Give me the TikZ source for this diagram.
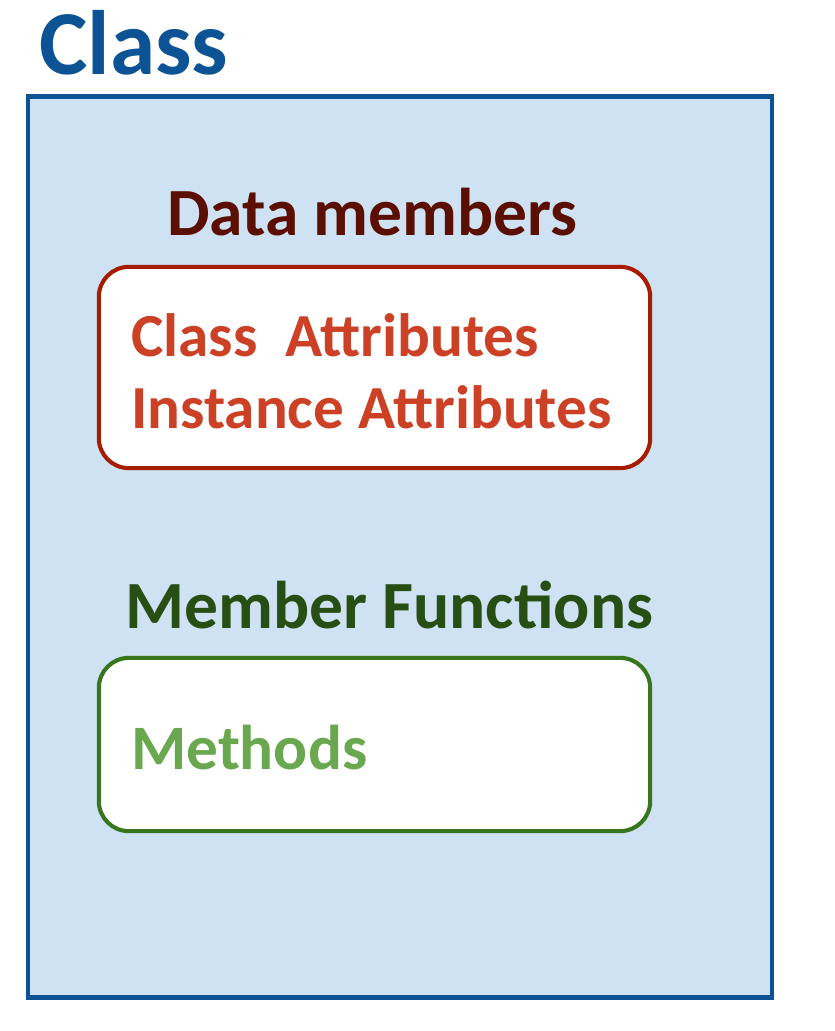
\documentclass[tikz,border=0pt]{standalone}
\usepackage{fontspec}
\setmainfont{Carlito}
\usepackage{tikz}
\usetikzlibrary{shapes.geometric, arrows}
\definecolor{classblue}{HTML}{0B5394}
\definecolor{classfill}{HTML}{CFE2F3}
\definecolor{datadark}{HTML}{5B0F00}
\definecolor{databorder}{HTML}{A61C00}
\definecolor{datatext}{HTML}{CC4125}
\definecolor{funcdark}{HTML}{274E13}
\definecolor{funcborder}{HTML}{38761D}
\definecolor{functext}{HTML}{6AA84F}
\tikzstyle{outer} = [rectangle, draw=classblue, fill=classfill, line width=3.4pt, inner sep=0pt, minimum width=18.6cm, minimum height=22.5cm]
\tikzstyle{member} = [rectangle, rounded corners=0.75cm, fill=white, line width=2.9pt, inner sep=0pt, minimum width=13.78cm]
\tikzstyle{label} = [anchor=base west, inner sep=0pt, font=\bfseries\fontsize{48}{48}\selectfont]
\tikzstyle{entry} = [anchor=base west, inner sep=0pt, font=\bfseries\fontsize{43.5}{43.5}\selectfont]

\begin{document}
\begin{tikzpicture}[x=0.025cm, y=-0.025cm]
  \useasboundingbox (0,0) rectangle (834,1031);
  \node (cls) [outer] at (400,547) {};
  \node (title) [label, text=classblue, font=\bfseries\fontsize{65}{65}\selectfont] at (39,75) {Class};

  \node (datahead) [label, text=datadark] at (167,235) {Data members};
  \node (databox) [member, draw=databorder, minimum height=5.03cm] at (374.5,367.5) {};
  \node (clsattr) [entry, text=datatext] at (131,356) {Class\ \ Attributes};
  \node (instattr) [entry, text=datatext] at (131,428) {Instance Attributes};

  \node (funchead) [label, text=funcdark] at (125,628) {Member Functions};
  \node (funcbox) [member, draw=funcborder, minimum height=4.33cm] at (374.5,744.5) {};
  \node (methods) [entry, text=functext, font=\bfseries\fontsize{45}{45}\selectfont] at (131,769) {Methods};
\end{tikzpicture}
\end{document}
